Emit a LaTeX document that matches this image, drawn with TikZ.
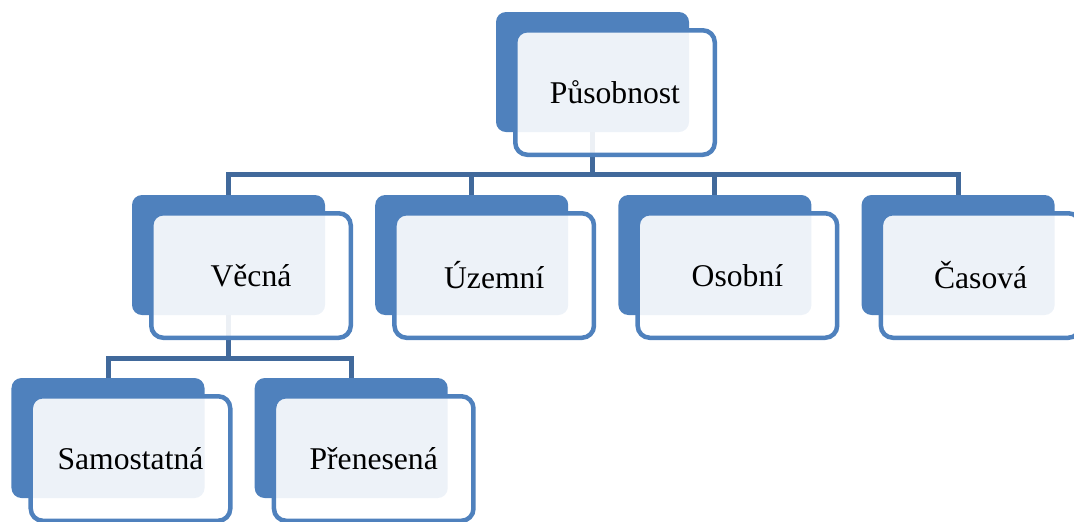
\documentclass[tikz,border=0pt]{standalone}
\usepackage{fontspec}
\setmainfont{Liberation Serif}
\usetikzlibrary{positioning}
\definecolor{boxblue}{HTML}{4F81BD}
\definecolor{linkblue}{HTML}{41699B}

\begin{document}
\begin{tikzpicture}[
x=0.2mm, y=-0.2mm,
node distance= 9.9mm,
     back/.style = {fill=boxblue, rounded corners=2mm, inner sep=0pt,
                    minimum width=38.6mm, minimum height=24mm},
    front/.style = {draw=boxblue, line width=0.9mm, rounded corners=2.4mm,
                    fill=white, fill opacity=0.9, text opacity=1,
                    minimum width=39.9mm, minimum height=24.9mm,
                    xshift=4.5mm, yshift=-4.1mm,
                    font=\fontsize{18}{22}\selectfont},
     link/.style = {draw=linkblue, line width=1mm}
                    ]
\useasboundingbox (0,0) rectangle (1074,521);
 % back boxes
\node (top)    [back] at (592.5,72) {};
\node (vecna)  [back] at (228.5,255) {};
\node (uzemni) [back, right=of vecna] {};
\node (osobni) [back, right=of uzemni] {};
\node (casova) [back, right=of osobni] {};
\node (samost) [back] at (108,438) {};
\node (prenes) [back, right=of samost] {};
% connectors
\coordinate (bus1) at (593,174);
\coordinate (bus2) at (229,358);
\draw[link] (top.south) -- (top.south |- bus1);
\draw[link] (vecna.north) |- (bus1) -| (casova.north);
\draw[link] (uzemni.north) -- (uzemni.north |- bus1);
\draw[link] (osobni.north) -- (osobni.north |- bus1);
\draw[link] (vecna.south) -- (vecna.south |- bus2);
\draw[link] (samost.north) |- (bus2) -| (prenes.north);
% front boxes
\node (topF)    [front] at (top)    {Působnost};
\node (vecnaF)  [front] at (vecna)  {Věcná};
\node (uzemniF) [front] at (uzemni) {Územní};
\node (osobniF) [front] at (osobni) {Osobní};
\node (casovaF) [front] at (casova) {Časová};
\node (samostF) [front] at (samost) {Samostatná};
\node (prenesF) [front] at (prenes) {Přenesená};
\end{tikzpicture}
\end{document}
